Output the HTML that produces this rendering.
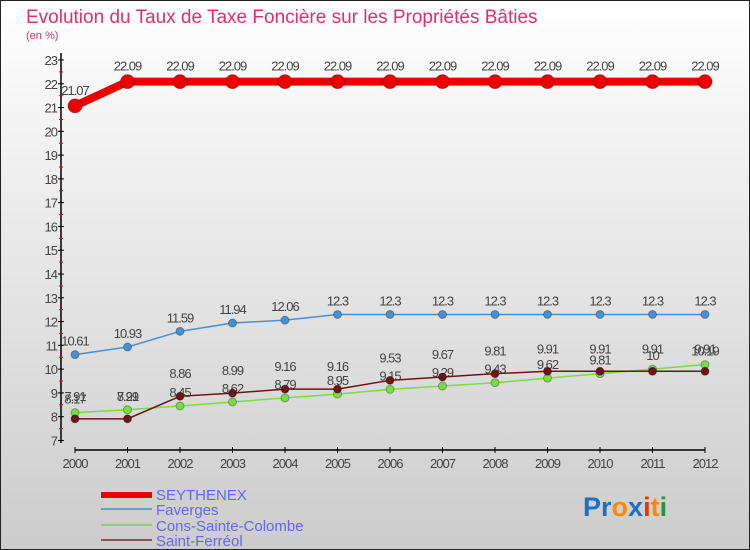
<!DOCTYPE html>
<html><head><meta charset="utf-8"><style>
body{margin:0}
#c{position:relative;width:748px;height:548px;border:1px solid #222;background:linear-gradient(#fff,#ccc);font-family:"Liberation Sans",sans-serif;overflow:hidden}
</style></head><body>
<div id="c">
<svg id="s" width="748" height="548" xmlns="http://www.w3.org/2000/svg">
<text x="25" y="22" font-size="19" fill="#e0306a">Evolution du Taux de Taxe Foncière sur les Propriétés Bâties</text>
<text x="25" y="38" font-size="11" fill="#e0306a">(en %)</text>
<g id="axes"></g><g id="series"></g>
<g id="legend" font-size="15" fill="#6666ee">
<rect x="100" y="491" width="51" height="6" fill="#ee0000"/>
<text x="155" y="499">SEYTHENEX</text>
<rect x="100" y="507" width="51" height="2" fill="#6a9ec8"/>
<text x="155" y="514">Faverges</text>
<rect x="100" y="523" width="51" height="2" fill="#88d070"/>
<text x="155" y="530">Cons-Sainte-Colombe</text>
<rect x="100" y="538" width="51" height="2" fill="#8a5555"/>
<text x="155" y="545">Saint-Ferréol</text>
</g>
<text x="582" y="515" font-size="27" font-weight="bold"><tspan fill="#1a70c8">Pr</tspan><tspan fill="#ff8800">o</tspan><tspan fill="#1a70c8">x</tspan><tspan fill="#ee3300">i</tspan><tspan fill="#ff8800">t</tspan><tspan fill="#229933">i</tspan></text>
</svg></div>
<script>
const years=[2000,2001,2002,2003,2004,2005,2006,2007,2008,2009,2010,2011,2012];
const yTicks=[7,8,9,10,11,12,13,14,15,16,17,18,19,20,21,22,23];
const seythenex=[21.07,22.09,22.09,22.09,22.09,22.09,22.09,22.09,22.09,22.09,22.09,22.09,22.09];
const faverges=[10.61,10.93,11.59,11.94,12.06,12.3,12.3,12.3,12.3,12.3,12.3,12.3,12.3];
const cons=[8.17,8.29,8.45,8.62,8.79,8.95,9.15,9.29,9.43,9.62,9.81,10,10.19];
const ferreol=[7.91,7.91,8.86,8.99,9.16,9.16,9.53,9.67,9.81,9.91,9.91,9.91,9.91];
const NS="http://www.w3.org/2000/svg";
const X=i=>74+i*52.5, Y=v=>59-(v-23)*23.78;
const ax=document.getElementById('axes'), sg=document.getElementById('series');
function el(t,a,p){const e=document.createElementNS(NS,t);for(const k in a)e.setAttribute(k,a[k]);p.appendChild(e);return e;}
let l=el('line',{x1:60,y1:52,x2:60,y2:442,stroke:'#000','stroke-width':1.5},ax);


l=el('line',{x1:74,y1:449,x2:704,y2:449,stroke:'#000','stroke-width':1.5},ax);


yTicks.forEach(v=>{
 el('line',{x1:57,y1:Y(v),x2:63,y2:Y(v),stroke:'#000'},ax);
 if(v<23) el('line',{x1:58,y1:Y(v+0.5),x2:62,y2:Y(v+0.5),stroke:'#e00'},ax);
 const t=el('text',{x:56,y:Y(v)+5,'font-size':13,fill:'#444','text-anchor':'end','letter-spacing':'-1'},ax);t.textContent=v;
 
 
});
years.forEach((y,i)=>{
 el('line',{x1:X(i),y1:446,x2:X(i),y2:452,stroke:'#000'},ax);
 const t=el('text',{x:X(i),y:467,'font-size':13,fill:'#444','text-anchor':'middle','letter-spacing':'-1'},ax);t.textContent=y;
 
 
});
function draw(d,col,w,r,name,dy){
 const p=el('polyline',{points:d.map((v,i)=>X(i)+','+Y(v)).join(' '),fill:'none',stroke:col,'stroke-width':w},sg);
 
 
 d.forEach((v,i)=>{
  const c=el('circle',{cx:X(i),cy:Y(v),r:r,fill:col,stroke:'rgba(0,0,0,0.3)','stroke-width':1},sg);
  
  
  const t=el('text',{x:X(i),y:Y(v)+dy,'font-size':13,fill:'#444','text-anchor':'middle','letter-spacing':'-1'},sg);
  t.textContent=String(v).replace('.','.');
  
  
 });
}
draw(faverges,'#4a90d0',1.5,4,'faverges',-9);
draw(cons,'#77dd44',1.5,4,'cons-sainte-colombe',-9);
draw(ferreol,'#6b1515',1.5,4,'saint-ferreol',-18);
draw(seythenex,'#ee0000',8,7,'seythenex',-11);
</script>
</body></html>
